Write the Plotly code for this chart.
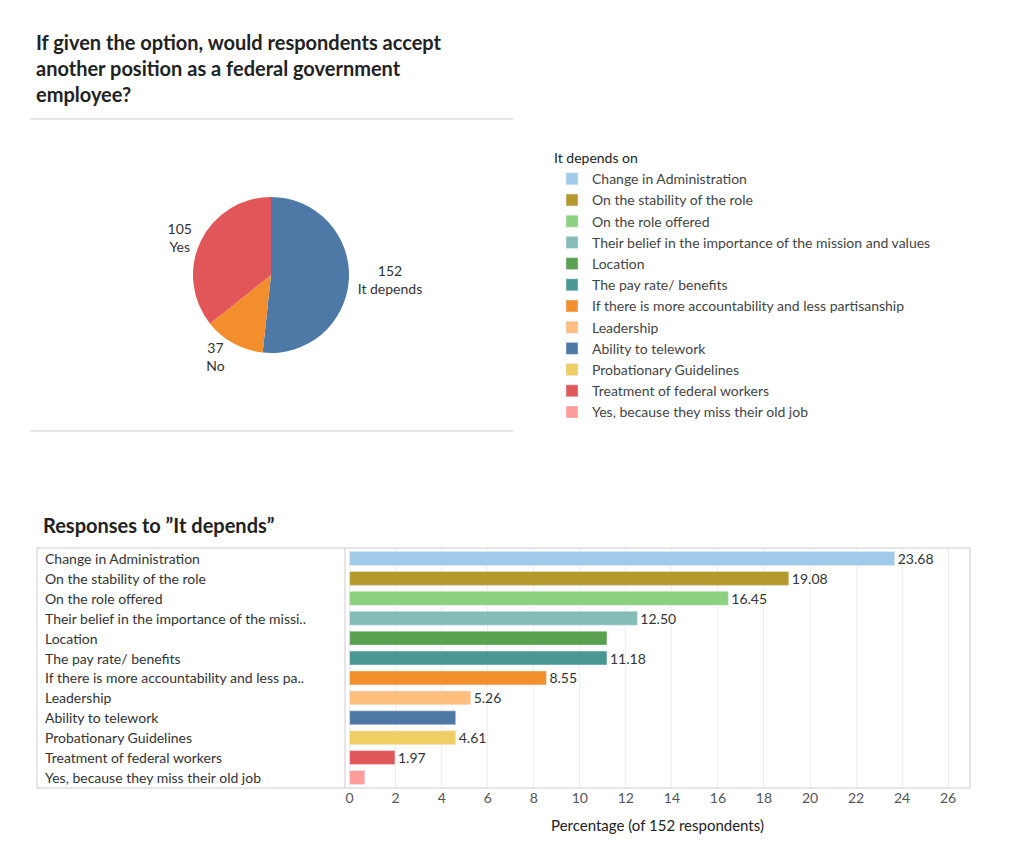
import plotly.graph_objects as go

pie_labels = ["It depends", "No", "Yes"]
pie_values = [152, 37, 105]
pie_colors = ["#4e79a7", "#f28e2b", "#e15759"]

categories = ["Change in Administration", "On the stability of the role", "On the role offered",
              "Their belief in the importance of the mission and values", "Location",
              "The pay rate/ benefits", "If there is more accountability and less partisanship",
              "Leadership", "Ability to telework", "Probationary Guidelines",
              "Treatment of federal workers", "Yes, because they miss their old job"]
short_labels = ["Change in Administration", "On the stability of the role", "On the role offered",
                "Their belief in the importance of the missi..", "Location",
                "The pay rate/ benefits", "If there is more accountability and less pa..",
                "Leadership", "Ability to telework", "Probationary Guidelines",
                "Treatment of federal workers", "Yes, because they miss their old job"]
percent = [23.68, 19.08, 16.45, 12.50, 11.18, 11.18, 8.55, 5.26, 4.61, 4.61, 1.97, 0.66]
shown = [True, True, True, True, False, True, True, True, False, True, True, False]
colors = ["#a0cbe8", "#b6992d", "#8cd17d", "#86bcb6", "#59a14f", "#499894", "#f28e2b",
          "#ffbe7d", "#4e79a7", "#f1ce63", "#e15759", "#ff9d9a"]

W, H = 1015, 864
# page puts the figure 8px in from the top-left corner
px_x = lambda x: (x - 8) / W
px_y = lambda y: 1 - (y - 8) / H
font = "Lato, Noto Sans, sans-serif"

fig = go.Figure()
fig.add_trace(go.Pie(labels=pie_labels, values=pie_values, marker=dict(colors=pie_colors),
                     sort=False, direction="clockwise", rotation=0,
                     texttemplate="%{value}<br>%{label}", textposition="outside",
                     textfont=dict(size=14, color="#333"), showlegend=False,
                     domain=dict(x=[px_x(193), px_x(349)], y=[px_y(353), px_y(197)])))

for i, c in enumerate(categories):
    fig.add_trace(go.Bar(x=[percent[i]], y=[c], orientation="h", name=c,
                         marker=dict(color=colors[i]), width=0.7,
                         text=[f"{percent[i]:.2f}" if shown[i] else ""],
                         textposition="outside", constraintext="none",
                         textfont=dict(size=14, color="#333"), cliponaxis=False))

for i, c in enumerate(categories):
    fig.add_annotation(x=px_x(43), xref="paper", y=c, yref="y", text=short_labels[i],
                       xanchor="left", showarrow=False, font=dict(size=14, color="#333"))

fig.update_layout(
    width=W, height=H, margin=dict(l=0, r=0, t=0, b=0),
    paper_bgcolor="white", plot_bgcolor="white", barmode="overlay",
    font=dict(family=font, color="#333"),
    legend=dict(x=px_x(552), y=px_y(145), xanchor="left", yanchor="top",
                title=dict(text="It depends on", font=dict(size=14, color="#222")),
                font=dict(size=14, color="#444"), tracegroupgap=0, itemwidth=30),
    xaxis=dict(domain=[px_x(345), px_x(970)], range=[-0.2, 26.95], dtick=2,
               showgrid=True, gridcolor="#eeeeee", zeroline=False,
               tickfont=dict(size=14, color="#555"), ticks="",
               title=dict(text="Percentage (of 152 respondents)", font=dict(size=15, color="#222"))),
    yaxis=dict(domain=[px_y(788), px_y(548)], categoryorder="array",
               categoryarray=categories[::-1], showticklabels=False, showgrid=False),
    annotations=list(fig.layout.annotations) + [
        dict(x=px_x(34), y=px_y(28), xref="paper", yref="paper", xanchor="left", yanchor="top",
             align="left", showarrow=False,
             text="<b>If given the option, would respondents accept<br>another position as a federal government<br>employee?</b>",
             font=dict(size=20, color="#222")),
        dict(x=px_x(41), y=px_y(525), xref="paper", yref="paper", xanchor="left", yanchor="middle",
             showarrow=False, text="<b>Responses to \u201dIt depends\u201d</b>",
             font=dict(size=20, color="#222")),
    ],
    shapes=[
        dict(type="line", xref="paper", yref="paper", x0=px_x(30), x1=px_x(513),
             y0=px_y(119), y1=px_y(119), line=dict(color="#ccc", width=1)),
        dict(type="line", xref="paper", yref="paper", x0=px_x(30), x1=px_x(513),
             y0=px_y(431), y1=px_y(431), line=dict(color="#ccc", width=1)),
        dict(type="rect", xref="paper", yref="paper", x0=px_x(37), x1=px_x(970),
             y0=px_y(788), y1=px_y(548), line=dict(color="#ccc", width=1)),
        dict(type="line", xref="paper", yref="paper", x0=px_x(345), x1=px_x(345),
             y0=px_y(788), y1=px_y(548), line=dict(color="#ccc", width=1)),
    ],
)

fig.write_html("out.html")
